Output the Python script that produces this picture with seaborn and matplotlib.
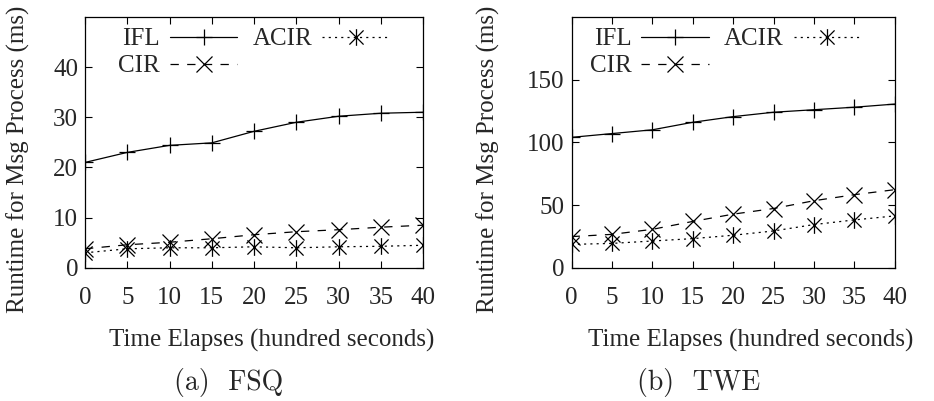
import numpy as np
import pandas as pd
import matplotlib
matplotlib.use("Agg")
import matplotlib.pyplot as plt
from matplotlib.path import Path
import seaborn as sns

# ---------------- data ----------------
time_x = [0, 5, 10, 15, 20, 25, 30, 35, 40]

fsq_ifl = [21.0, 23.0, 24.4, 24.9, 27.2, 29.0, 30.2, 30.8, 31.0]
fsq_cir = [3.8, 4.6, 5.1, 5.8, 6.6, 7.2, 7.6, 8.1, 8.5]
fsq_acir = [3.0, 3.8, 4.0, 4.0, 4.2, 4.0, 4.2, 4.3, 4.5]

twe_ifl = [104, 107, 110, 116, 120.5, 124, 126, 128, 130.5]
twe_cir = [24.9, 26.7, 30.7, 37.0, 42.8, 47.3, 53.5, 58.3, 62.3]
twe_acir = [18.7, 19.5, 21.4, 23.3, 26.0, 29.4, 34.5, 38.2, 41.4]

series_names = ["IFL", "CIR", "ACIR"]
x_ticks = [0, 5, 10, 15, 20, 25, 30, 35, 40]
fsq_yticks = [0, 10, 20, 30, 40]
twe_yticks = [0, 50, 100, 150]
x_label = "Time Elapses (hundred seconds)"
y_label = "Runtime for Msg Process (ms)"
captions = ["(a)  FSQ", "(b)  TWE"]

# ---------------- style ----------------
sns.set_style("ticks")
plt.rcParams["font.family"] = ["Liberation Serif", "DejaVu Serif"]
plt.rcParams["lines.scale_dashes"] = False
FS = 18

asterisk = Path(
    [(0, -1), (0, 1), (-0.85, -0.85), (0.85, 0.85), (-0.85, 0.85), (0.85, -0.85)],
    [Path.MOVETO, Path.LINETO, Path.MOVETO, Path.LINETO, Path.MOVETO, Path.LINETO],
)

styles = {
    "IFL": dict(marker="+", markersize=12, linestyle="-"),
    "CIR": dict(marker="x", markersize=11, linestyle=(0, (6, 6))),
    "ACIR": dict(marker=asterisk, markersize=12, linestyle=(0, (1.5, 3))),
}

fig = plt.figure(figsize=(9.34, 4.01), dpi=100)
ax1 = fig.add_axes([0.091, 0.332, 0.362, 0.626])
ax2 = fig.add_axes([0.612, 0.332, 0.346, 0.626])

panels = [
    (ax1, [fsq_ifl, fsq_cir, fsq_acir], 50, fsq_yticks, 0.083, -0.198, captions[0], 0.245),
    (ax2, [twe_ifl, twe_cir, twe_acir], 200, twe_yticks, 0.040, -0.257, captions[1], 0.748),
]

for ax, vals, ymax, yticks, legx, ylabx, cap, capx in panels:
    df = pd.DataFrame({"x": time_x * 3,
                       "y": vals[0] + vals[1] + vals[2],
                       "s": sum([[n] * len(time_x) for n in series_names], [])})
    for name in series_names:
        sub = df[df["s"] == name]
        st = styles[name]
        sns.lineplot(data=sub, x="x", y="y", ax=ax, color="black", linewidth=0.9,
                     marker=st["marker"], markersize=st["markersize"],
                     markeredgewidth=0.9, markeredgecolor="black",
                     linestyle=st["linestyle"], label=name, legend=False)
    ax.set_xlim(0, 40)
    ax.set_ylim(0, ymax)
    ax.set_xticks(x_ticks)
    ax.set_yticks(yticks)
    ax.tick_params(direction="in", top=True, right=True, length=5, width=0.8,
                   labelsize=FS, color="black")
    ax.tick_params(axis="x", pad=14)
    ax.tick_params(axis="y", pad=5)
    for sp in ax.spines.values():
        sp.set_visible(True)
        sp.set_linewidth(0.9)
        sp.set_color("black")
    ax.set_xlabel(x_label, fontsize=FS, va="center")
    ax.set_ylabel(y_label, fontsize=FS, va="center")
    ax.xaxis.set_label_coords(0.553, -0.29)
    ax.yaxis.set_label_coords(ylabx, 0.434)
    handles, labels = ax.get_legend_handles_labels()
    leg = ax.legend(handles, labels, ncol=2, loc="upper left",
                    bbox_to_anchor=(legx, 0.976), frameon=False, fontsize=FS,
                    markerfirst=False, handlelength=2.7, handletextpad=0.4,
                    columnspacing=0.6, labelspacing=0.18, borderpad=0.2,
                    borderaxespad=0.0)
    fig.text(capx, 0.045, cap, fontsize=20, family="cmr10", ha="center", va="center")

fig.savefig("out.png", dpi=100)
